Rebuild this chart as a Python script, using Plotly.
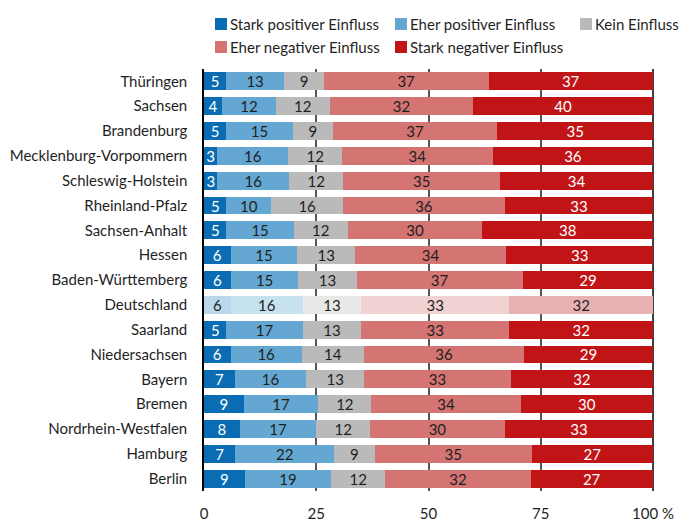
import plotly.graph_objects as go

states = ["Thüringen", "Sachsen", "Brandenburg", "Mecklenburg-Vorpommern", "Schleswig-Holstein",
          "Rheinland-Pfalz", "Sachsen-Anhalt", "Hessen", "Baden-Württemberg", "Deutschland",
          "Saarland", "Niedersachsen", "Bayern", "Bremen", "Nordrhein-Westfalen", "Hamburg", "Berlin"]

stark_pos = [5, 4, 5, 3, 3, 5, 5, 6, 6, 6, 5, 6, 7, 9, 8, 7, 9]
eher_pos = [13, 12, 15, 16, 16, 10, 15, 15, 15, 16, 17, 16, 16, 17, 17, 22, 19]
kein = [9, 12, 9, 12, 12, 16, 12, 13, 13, 13, 13, 14, 13, 12, 12, 9, 12]
eher_neg = [37, 32, 37, 34, 35, 36, 30, 34, 37, 33, 33, 36, 33, 34, 30, 35, 32]
stark_neg = [37, 40, 35, 36, 34, 33, 38, 33, 29, 32, 32, 29, 32, 30, 33, 27, 27]

series_names = ["Stark positiver Einfluss", "Eher positiver Einfluss", "Kein Einfluss",
                "Eher negativer Einfluss", "Stark negativer Einfluss"]
series_values = [stark_pos, eher_pos, kein, eher_neg, stark_neg]
colors = ["#0a6db3", "#63a7d2", "#bababa", "#d47473", "#c01417"]
colors_light = ["#b9d9ea", "#c6e2ef", "#e8e8e6", "#f0d2d2", "#e7b2b1"]
text_colors = ["#ffffff", "#1f1f1f", "#1f1f1f", "#1f1f1f", "#ffffff"]

highlight = "Deutschland"
totals = [sum(v[i] for v in series_values) for i in range(len(states))]

FONT = "Lato"
FS = 15
L, R, T, B = 204, 28, 69, 34
W, H = 681, 525
PW, PH = W - L - R, H - T - B

fig = go.Figure()
for name, vals, col, lcol, tcol in zip(series_names, series_values, colors, colors_light, text_colors):
    widths = [v / t * 100 for v, t in zip(vals, totals)]
    bar_colors = [lcol if s == highlight else col for s in states]
    txt_colors = ["#1f1f1f" if s == highlight else tcol for s in states]
    fig.add_trace(go.Bar(
        y=states, x=widths, orientation="h", name=name,
        marker=dict(color=bar_colors, line=dict(width=0)),
        text=[str(v) for v in vals], textposition="inside", insidetextanchor="middle",
        textangle=0, textfont=dict(color=txt_colors, size=FS, family=FONT),
        showlegend=False, hovertemplate="%{y}: %{text}<extra>" + name + "</extra>",
    ))

fig.update_layout(
    barmode="stack", bargap=0.28,
    width=W, height=H,
    margin=dict(l=L, r=R, t=T, b=B, autoexpand=False),
    paper_bgcolor="white", plot_bgcolor="white",
    font=dict(family=FONT, size=FS, color="#1f1f1f"),
    uniformtext=dict(minsize=FS, mode="show"),
)
fig.update_xaxes(
    range=[0, 100], tickvals=[0, 25, 50, 75, 100], ticktext=["0", "25", "50", "75", "100 %"],
    showgrid=True, gridcolor="#555555", gridwidth=1.5, zeroline=False, showline=False,
    ticks="", ticklabelstandoff=12, tickfont=dict(size=FS), fixedrange=True, automargin=False,
)
fig.update_yaxes(
    autorange="reversed", showline=True, linecolor="#000000", linewidth=1.5,
    ticks="", ticklabelstandoff=12, showgrid=False, tickfont=dict(size=FS), automargin=False,
)
# right boundary line at 100 %
fig.add_shape(type="line", xref="x domain", yref="y domain", x0=1, x1=1, y0=0, y1=1,
              line=dict(color="#000000", width=1.5), layer="below")

# legend drawn as swatches + labels
legend_pos = [(215, 24), (395, 24), (580, 24), (215, 47), (395, 47)]
for (px, py), name, col in zip(legend_pos, series_names, colors):
    fig.add_shape(type="rect", xref="paper", yref="paper",
                  x0=(px - L) / PW, x1=(px + 12 - L) / PW,
                  y0=(H - B - (py + 6)) / PH, y1=(H - B - (py - 6)) / PH,
                  fillcolor=col, line=dict(width=0))
    fig.add_annotation(xref="paper", yref="paper", x=(px + 13 - L) / PW,
                       y=(H - B - py) / PH, text=name, showarrow=False,
                       xanchor="left", yanchor="middle", font=dict(size=FS, family=FONT, color="#1f1f1f"))

fig.write_html("out.html")
